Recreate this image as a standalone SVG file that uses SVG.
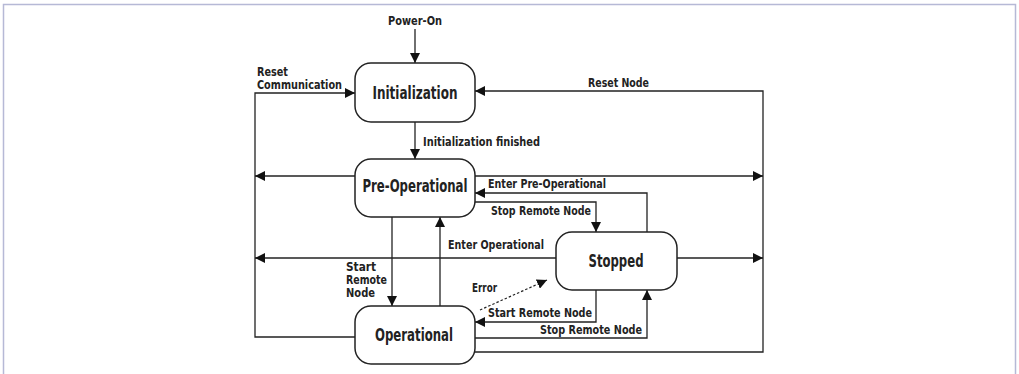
<svg xmlns="http://www.w3.org/2000/svg" width="1019" height="374" viewBox="0 0 1019 374">
<style>
.frame{fill:none;stroke:#b6b9d6;stroke-width:1.5}
.box{fill:#fff;stroke:#222;stroke-width:1.5}
.nt{font-family:"DejaVu Sans Condensed","DejaVu Sans",sans-serif;font-weight:bold;font-size:17px;fill:#222;text-anchor:middle}
.lt{font-family:"DejaVu Sans Condensed","DejaVu Sans",sans-serif;font-weight:bold;font-size:12.5px;fill:#222}
.ml{font-size:11.5px}
.c{fill:none;stroke:#222;stroke-width:1.3}
.d{fill:none;stroke:#222;stroke-width:1.2;stroke-dasharray:2.5,2}
</style>
<defs>
<marker id="ah" markerUnits="userSpaceOnUse" markerWidth="10" markerHeight="10" viewBox="0 0 10 10" refX="10" refY="5" orient="auto">
<path d="M0,0 L10,5 L0,10 Z" fill="#111"/>
</marker>
</defs>
<rect class="frame" x="3.5" y="4.5" width="1012" height="380"/>
<g id="connectors">
<path class="c" d="M415,29 V63" marker-end="url(#ah)"/>
<path class="c" d="M415,122 V159" marker-end="url(#ah)"/>
<path class="c" d="M355,337 H255 V93 H355" marker-end="url(#ah)"/>
<path class="c" d="M475,352 H763 V91 H475" marker-end="url(#ah)"/>
<path class="c" d="M355,176 H255" marker-end="url(#ah)"/>
<path class="c" d="M475,176 H763" marker-end="url(#ah)"/>
<path class="c" d="M647,232 V193 H475" marker-end="url(#ah)"/>
<path class="c" d="M475,202 H596 V232" marker-end="url(#ah)"/>
<path class="c" d="M556,258 H255" marker-end="url(#ah)"/>
<path class="c" d="M677,258 H763" marker-end="url(#ah)"/>
<path class="c" d="M392,217 V306" marker-end="url(#ah)"/>
<path class="c" d="M440,306 V217" marker-end="url(#ah)"/>
<path class="d" d="M480,310 L547,280" marker-end="url(#ah)"/>
<path class="c" d="M596,290 V322 H475" marker-end="url(#ah)"/>
<path class="c" d="M475,338 H647 V290" marker-end="url(#ah)"/>
<text class="lt" x="388" y="25" textLength="54" lengthAdjust="spacingAndGlyphs">Power-On</text>
<text class="lt ml" x="257" y="76" textLength="31" lengthAdjust="spacingAndGlyphs">Reset</text>
<text class="lt ml" x="257" y="89" textLength="85" lengthAdjust="spacingAndGlyphs">Communication</text>
<text class="lt" x="588" y="87" textLength="61" lengthAdjust="spacingAndGlyphs">Reset Node</text>
<text class="lt" x="423" y="146" textLength="117" lengthAdjust="spacingAndGlyphs">Initialization finished</text>
<text class="lt" x="488" y="188" textLength="118" lengthAdjust="spacingAndGlyphs">Enter Pre-Operational</text>
<text class="lt" x="491" y="215" textLength="100" lengthAdjust="spacingAndGlyphs">Stop Remote Node</text>
<text class="lt" x="448" y="249" textLength="96" lengthAdjust="spacingAndGlyphs">Enter Operational</text>
<text class="lt ml" x="346" y="271" textLength="30" lengthAdjust="spacingAndGlyphs">Start</text>
<text class="lt ml" x="346" y="284" textLength="41" lengthAdjust="spacingAndGlyphs">Remote</text>
<text class="lt ml" x="346" y="297" textLength="29" lengthAdjust="spacingAndGlyphs">Node</text>
<text class="lt" x="472" y="292" textLength="25" lengthAdjust="spacingAndGlyphs">Error</text>
<text class="lt" x="488" y="317" textLength="104" lengthAdjust="spacingAndGlyphs">Start Remote Node</text>
<text class="lt" x="540" y="334" textLength="102" lengthAdjust="spacingAndGlyphs">Stop Remote Node</text>
</g>
<g id="initialization">
<rect class="box" x="355" y="63" width="120" height="59" rx="16"/>
<text class="nt" x="415" y="99" textLength="85" lengthAdjust="spacingAndGlyphs">Initialization</text>
</g>
<g id="pre-operational">
<rect class="box" x="355" y="159" width="120" height="58" rx="16"/>
<text class="nt" x="415" y="192" textLength="105" lengthAdjust="spacingAndGlyphs">Pre-Operational</text>
</g>
<g id="stopped">
<rect class="box" x="556" y="232" width="121" height="58" rx="16"/>
<text class="nt" x="616" y="267" textLength="55" lengthAdjust="spacingAndGlyphs">Stopped</text>
</g>
<g id="operational">
<rect class="box" x="355" y="306" width="120" height="58" rx="16"/>
<text class="nt" x="414" y="341" textLength="78" lengthAdjust="spacingAndGlyphs">Operational</text>
</g>
</svg>
